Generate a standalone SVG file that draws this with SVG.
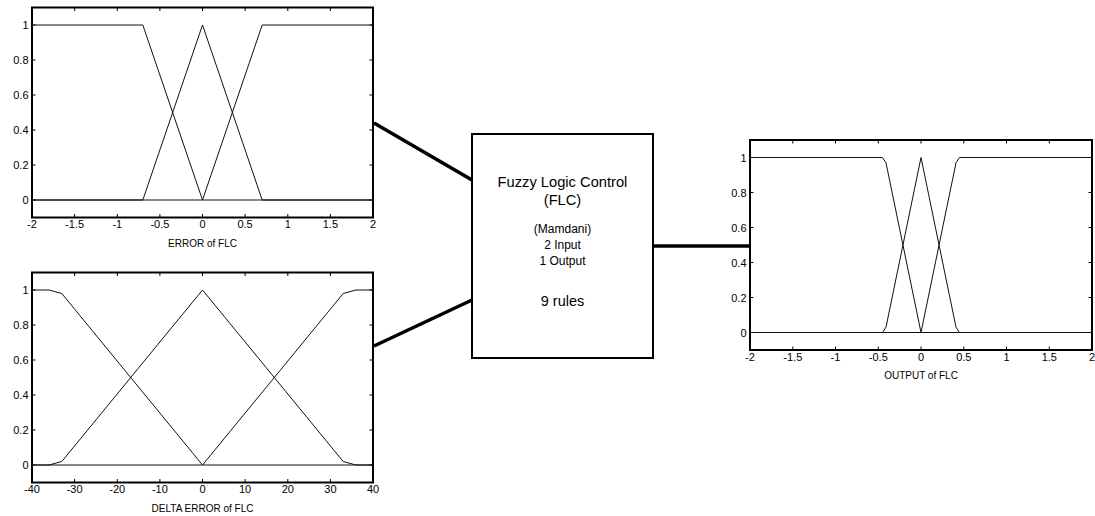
<svg xmlns="http://www.w3.org/2000/svg" width="1095" height="516" viewBox="0 0 1095 516">
<style>
.frame{fill:#fff;stroke:#000;stroke-width:2}
.mf{fill:none;stroke:#111;stroke-width:1}
.tick{stroke:#000;stroke-width:1}
.tl{font-family:"Liberation Sans",Arial,sans-serif;font-size:11px;fill:#000}
.yl{text-anchor:end}
.xl{text-anchor:middle}
.ttl{font-family:"Liberation Sans",Arial,sans-serif;font-size:10px;fill:#000;text-anchor:middle}
.conn{stroke:#000;stroke-width:3.5;fill:none}
.ctext{font-family:"Liberation Sans",Arial,sans-serif;fill:#000;text-anchor:middle}
</style>
<rect width="1095" height="516" fill="#fff"/>

<g id="connectors">
<line class="conn" x1="374" y1="123" x2="472" y2="180"/>
<line class="conn" x1="374" y1="346" x2="472" y2="300"/>
<line class="conn" x1="653" y1="246" x2="751" y2="246"/>
</g>

<g id="error-plot">
<rect class="frame" x="32" y="7.5" width="341" height="210"/>
<g class="tick">
<path d="M32 200h3.5M32 165h3.5M32 130h3.5M32 95h3.5M32 60h3.5M32 25h3.5M373 200h-3.5M373 165h-3.5M373 130h-3.5M373 95h-3.5M373 60h-3.5M373 25h-3.5"/>
<path d="M74.6 217.5v-3.5M117.3 217.5v-3.5M159.9 217.5v-3.5M202.5 217.5v-3.5M245.1 217.5v-3.5M287.8 217.5v-3.5M330.4 217.5v-3.5M74.6 7.5v3.5M117.3 7.5v3.5M159.9 7.5v3.5M202.5 7.5v3.5M245.1 7.5v3.5M287.8 7.5v3.5M330.4 7.5v3.5"/>
</g>
<polyline class="mf" points="32,25 142.8,25 202.5,200 373,200"/>
<polyline class="mf" points="32,200 142.8,200 202.5,25 262.2,200 373,200"/>
<polyline class="mf" points="32,200 202.5,200 262.2,25 373,25"/>
<g class="tl yl">
<text x="28.5" y="204">0</text><text x="28.5" y="169">0.2</text><text x="28.5" y="134">0.4</text><text x="28.5" y="99">0.6</text><text x="28.5" y="64">0.8</text><text x="28.5" y="29">1</text>
</g>
<g class="tl xl">
<text x="32" y="228">-2</text><text x="74.6" y="228">-1.5</text><text x="117.3" y="228">-1</text><text x="159.9" y="228">-0.5</text><text x="202.5" y="228">0</text><text x="245.1" y="228">0.5</text><text x="287.8" y="228">1</text><text x="330.4" y="228">1.5</text><text x="373" y="228">2</text>
</g>
<text class="ttl" x="202.5" y="246.5">ERROR of FLC</text>
</g>

<g id="delta-error-plot">
<rect class="frame" x="32" y="272.5" width="341" height="210"/>
<g class="tick">
<path d="M32 465h3.5M32 430h3.5M32 395h3.5M32 360h3.5M32 325h3.5M32 290h3.5M373 465h-3.5M373 430h-3.5M373 395h-3.5M373 360h-3.5M373 325h-3.5M373 290h-3.5"/>
<path d="M74.6 482.5v-3.5M117.3 482.5v-3.5M159.9 482.5v-3.5M202.5 482.5v-3.5M245.1 482.5v-3.5M287.8 482.5v-3.5M330.4 482.5v-3.5M74.6 272.5v3.5M117.3 272.5v3.5M159.9 272.5v3.5M202.5 272.5v3.5M245.1 272.5v3.5M287.8 272.5v3.5M330.4 272.5v3.5"/>
</g>
<polyline class="mf" points="32,290 49,290 61.8,293.5 202.5,465 373,465"/>
<polyline class="mf" points="32,465 49,465 61.8,461.5 202.5,290 343.2,461.5 356,465 373,465"/>
<polyline class="mf" points="32,465 202.5,465 343.2,293.5 356,290 373,290"/>
<g class="tl yl">
<text x="28.5" y="469">0</text><text x="28.5" y="434">0.2</text><text x="28.5" y="399">0.4</text><text x="28.5" y="364">0.6</text><text x="28.5" y="329">0.8</text><text x="28.5" y="294">1</text>
</g>
<g class="tl xl">
<text x="32" y="493">-40</text><text x="74.6" y="493">-30</text><text x="117.3" y="493">-20</text><text x="159.9" y="493">-10</text><text x="202.5" y="493">0</text><text x="245.1" y="493">10</text><text x="287.8" y="493">20</text><text x="330.4" y="493">30</text><text x="373" y="493">40</text>
</g>
<text class="ttl" x="202.5" y="512">DELTA ERROR of FLC</text>
</g>

<g id="flc-block">
<rect x="472" y="134" width="181" height="224" fill="#fff" stroke="#000" stroke-width="2"/>
<text class="ctext" x="562.5" y="187" font-size="14.7">Fuzzy Logic Control</text>
<text class="ctext" x="562.5" y="205" font-size="14.7">(FLC)</text>
<text class="ctext" x="562.5" y="233" font-size="12">(Mamdani)</text>
<text class="ctext" x="562.5" y="249" font-size="12">2 Input</text>
<text class="ctext" x="562.5" y="265" font-size="12">1 Output</text>
<text class="ctext" x="562.5" y="306" font-size="14.5">9 rules</text>
</g>

<g id="output-plot">
<rect class="frame" x="750" y="140" width="342" height="210"/>
<g class="tick">
<path d="M750 332.5h3.5M750 297.5h3.5M750 262.5h3.5M750 227.5h3.5M750 192.5h3.5M750 157.5h3.5M1092 332.5h-3.5M1092 297.5h-3.5M1092 262.5h-3.5M1092 227.5h-3.5M1092 192.5h-3.5M1092 157.5h-3.5"/>
<path d="M792.8 350v-3.5M835.5 350v-3.5M878.3 350v-3.5M921 350v-3.5M963.8 350v-3.5M1006.5 350v-3.5M1049.3 350v-3.5M792.8 140v3.5M835.5 140v3.5M878.3 140v3.5M921 140v3.5M963.8 140v3.5M1006.5 140v3.5M1049.3 140v3.5"/>
</g>
<polyline class="mf" points="750,157.5 882.5,157.5 886,162.8 921,332.5 1092,332.5"/>
<polyline class="mf" points="750,332.5 882.5,332.5 886,327.2 921,157.5 956,327.2 959.5,332.5 1092,332.5"/>
<polyline class="mf" points="750,332.5 921,332.5 956,162.8 959.5,157.5 1092,157.5"/>
<g class="tl yl">
<text x="746.5" y="336.5">0</text><text x="746.5" y="301.5">0.2</text><text x="746.5" y="266.5">0.4</text><text x="746.5" y="231.5">0.6</text><text x="746.5" y="196.5">0.8</text><text x="746.5" y="161.5">1</text>
</g>
<g class="tl xl">
<text x="750" y="361">-2</text><text x="792.8" y="361">-1.5</text><text x="835.5" y="361">-1</text><text x="878.3" y="361">-0.5</text><text x="921" y="361">0</text><text x="963.8" y="361">0.5</text><text x="1006.5" y="361">1</text><text x="1049.3" y="361">1.5</text><text x="1092" y="361">2</text>
</g>
<text class="ttl" x="921" y="379">OUTPUT of FLC</text>
</g>
</svg>
